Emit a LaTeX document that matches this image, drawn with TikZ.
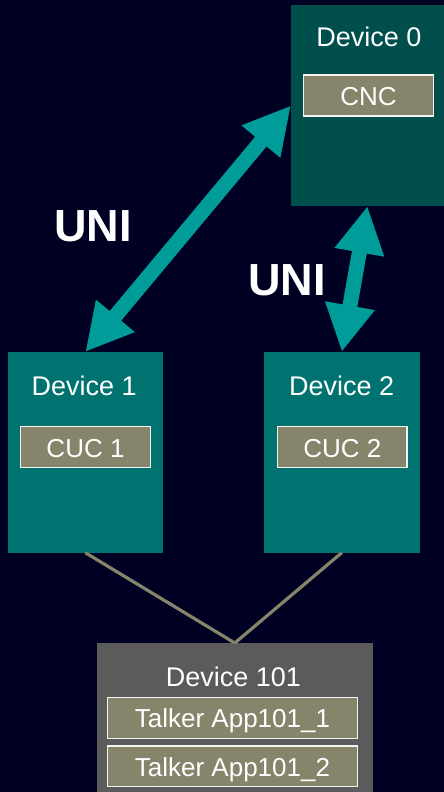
\documentclass[tikz,border=0pt]{standalone}
\usepackage{fontspec}
\setmainfont{Liberation Sans}
\usetikzlibrary{arrows.meta}

\definecolor{navybg}{HTML}{000022}
\definecolor{darkteal}{HTML}{004F4C}
\definecolor{midteal}{HTML}{007370}
\definecolor{linkteal}{HTML}{009C99}
\definecolor{olivebox}{HTML}{86846A}
\definecolor{greybox}{HTML}{5B5B5B}

\tikzset{
  devbox/.style={rectangle, inner sep=0pt, outer sep=0pt, draw=none},
  appbox/.style={rectangle, inner sep=0pt, outer sep=0pt, fill=olivebox,
    draw=white!90!olivebox, line width=1.4pt},
  apptext/.style={anchor=base, inner sep=0pt, text=white, font=\fontsize{26}{26}\selectfont},
  title/.style={anchor=base, inner sep=0pt, text=white, font=\fontsize{27}{27}\selectfont},
  unilabel/.style={anchor=base, inner sep=0pt, text=white, font=\fontsize{45}{45}\selectfont\bfseries},
  uni/.style={draw=linkteal, line width=15pt,
    {Triangle[length=47pt,width=47pt]}-{Triangle[length=47pt,width=47pt]}},
  wire/.style={draw=olivebox, line width=3.2pt}
}

\begin{document}
\begin{tikzpicture}[x=1pt, y=-1pt]
  \useasboundingbox (0,0) rectangle (444,792);
  \fill[navybg] (0,0) rectangle (444,792);

  % devices
  \node[devbox, fill=darkteal, minimum width=153pt, minimum height=201pt] (d0) at (367.5,105.5) {};
  \node[devbox, fill=midteal, minimum width=154.7pt, minimum height=200.7pt] (d1) at (85.3,452.3) {};
  \node[devbox, fill=midteal, minimum width=155.7pt, minimum height=200.7pt] (d2) at (341.8,452.3) {};
  \node[devbox, fill=greybox, minimum width=275.7pt, minimum height=160pt] (d101) at (234.8,723) {};

  % titles
  \node[title] (t0) at (369,47) {Device 0};
  \node[title] (t1) at (84.2,395) {Device 1};
  \node[title] (t2) at (341.7,395) {Device 2};
  \node[title] (t101) at (233.3,686.7) {Device 101};

  % inner application boxes
  \node[appbox, minimum width=129.6pt, minimum height=41pt] (cnc) at (368.5,95.5) {};
  \node[apptext] (cnct) at (368.5,105) {CNC};
  \node[appbox, minimum width=130.4pt, minimum height=40.6pt] (cuc1) at (85.5,447) {};
  \node[apptext] (cuc1t) at (85.5,457) {CUC 1};
  \node[appbox, minimum width=129.3pt, minimum height=40.6pt] (cuc2) at (342.3,447) {};
  \node[apptext] (cuc2t) at (342.3,457) {CUC 2};
  \node[appbox, minimum width=250.4pt, minimum height=41pt] (app1) at (232.5,717.8) {};
  \node[apptext] (app1t) at (232.5,727.5) {Talker App101\_1};
  \node[appbox, minimum width=250.4pt, minimum height=40.7pt] (app2) at (232.5,766.3) {};
  \node[apptext] (app2t) at (232.5,776) {Talker App101\_2};

  % UNI links
  \draw[uni] (d1.north) -- (d0.west);
  \draw[uni] (d2.north) -- (d0.south);
  \node[unilabel] (uni1) at (92.8,241.7) {UNI};
  \node[unilabel] (uni2) at (287,295) {UNI};

  % physical links to the end station
  \draw[wire] (d1.south) -- (d101.north);
  \draw[wire] (d2.south) -- (d101.north);
\end{tikzpicture}
\end{document}
